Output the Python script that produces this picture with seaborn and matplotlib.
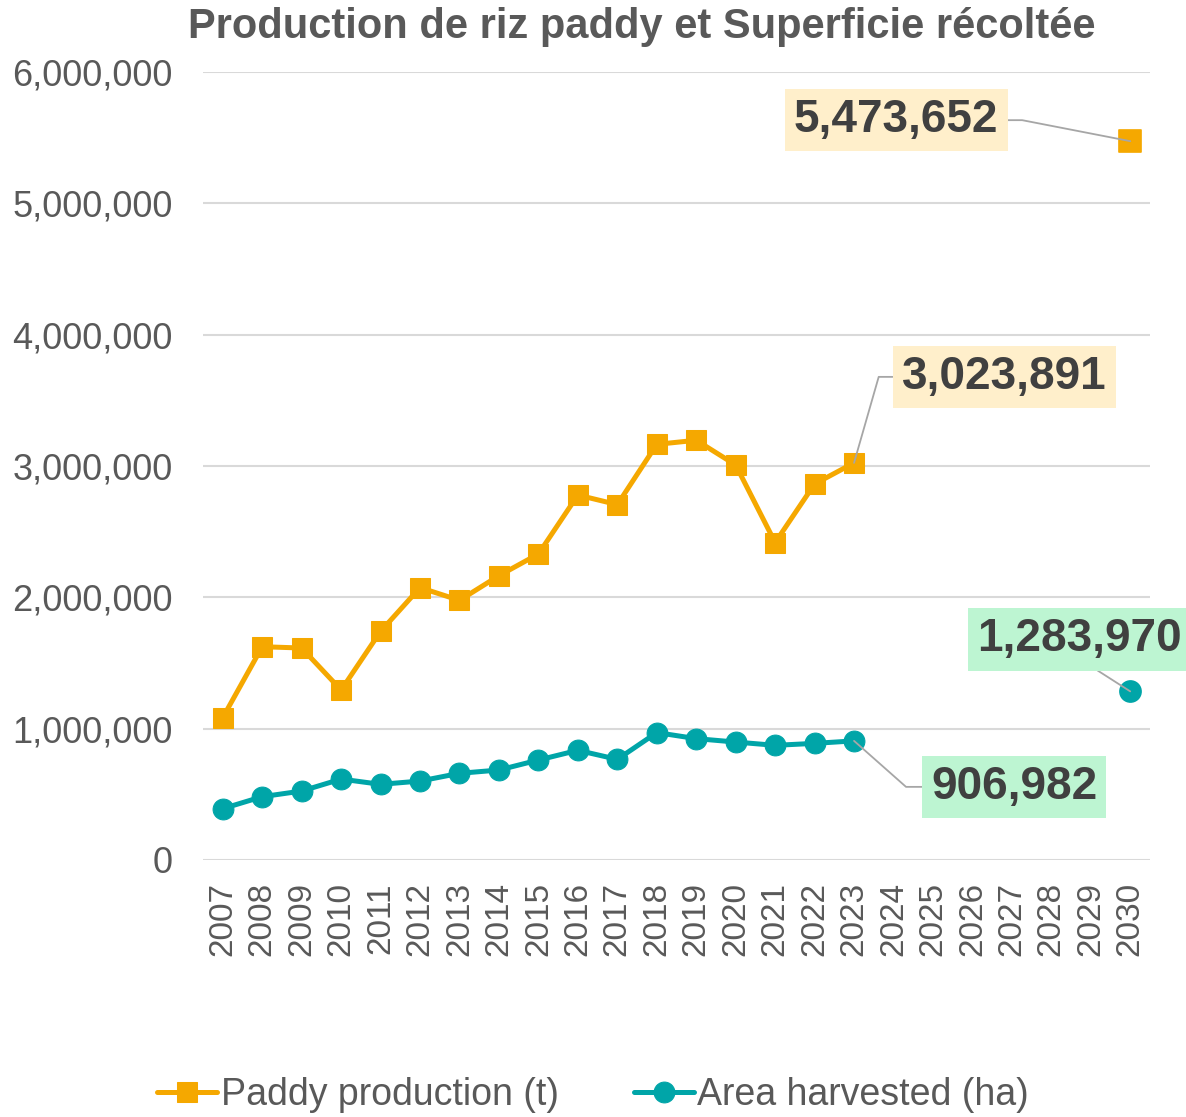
import numpy as np
import pandas as pd
import matplotlib
matplotlib.use("Agg")
import matplotlib.pyplot as plt
import seaborn as sns

# données
years = list(range(2007, 2031))
paddy = [1084000, 1624000, 1614000, 1294000, 1741000, 2074000, 1977000, 2165000,
         2330000, 2779000, 2706000, 3165000, 3196000, 3008000, 2417000, 2863000,
         3023891, np.nan, np.nan, np.nan, np.nan, np.nan, np.nan, 5473652]
area = [391000, 482000, 525000, 616000, 576000, 601000, 660000, 685000,
        761000, 835000, 766000, 970000, 924000, 898000, 873000, 888000,
        906982, np.nan, np.nan, np.nan, np.nan, np.nan, np.nan, 1283970]

df = pd.DataFrame({"Year": years, "Paddy": paddy, "Area": area})
hist = df[df["Year"] <= 2023]
proj = df[df["Year"] == 2030]

orange = "#F5A800"
teal = "#00A5A8"
grey_txt = "#595959"

sns.set_style("white")
plt.rcParams["font.family"] = ["Liberation Sans", "DejaVu Sans"]

fig = plt.figure(figsize=(11.86, 11.17), dpi=100)
ax = fig.add_axes([0.1712, 0.2301, 0.7984, 0.7054])

sns.lineplot(data=hist, x="Year", y="Paddy", color=orange, lw=3.6, marker="s",
             markersize=15, markeredgecolor=orange, ax=ax, label="Paddy production (t)")
sns.lineplot(data=hist, x="Year", y="Area", color=teal, lw=3.6, marker="o",
             markersize=15, markeredgecolor=teal, ax=ax, label="Area harvested (ha)")
sns.scatterplot(data=proj, x="Year", y="Paddy", color=orange, marker="s", s=230,
                edgecolor=orange, ax=ax, legend=False)
sns.scatterplot(data=proj, x="Year", y="Area", color=teal, marker="o", s=230,
                edgecolor=teal, ax=ax, legend=False)

ax.set_xlim(2006.5, 2030.5)
ax.set_ylim(0, 6000000)
ax.set_xticks(years)
ax.set_xticklabels([str(y) for y in years], rotation=90)
ax.set_yticks(range(0, 6000001, 1000000))
ax.yaxis.set_major_formatter(matplotlib.ticker.FuncFormatter(lambda v, p: f"{v:,.0f}"))
ax.tick_params(axis="y", labelsize=26, labelcolor=grey_txt, length=0, pad=22)
ax.tick_params(axis="x", labelsize=24, labelcolor=grey_txt, length=0, pad=16)
ax.set_xlabel("")
ax.set_ylabel("")
ax.grid(axis="y", color="#D9D9D9", lw=1.5)
ax.set_axisbelow(True)
for s in ax.spines.values():
    s.set_visible(False)

# étiquettes de données
lbl_kw = dict(textcoords="offset pixels", ha="center", va="center", fontsize=33,
              fontweight="bold", color="#404040", annotation_clip=False)
line_kw = dict(arrowstyle="-", color="#A6A6A6", lw=1.3, shrinkA=0, shrinkB=0)

ax.annotate(f"{paddy[-1]:,.0f}", xy=(years[-1], paddy[-1]), xytext=(-234, 21),
            bbox=dict(boxstyle="square,pad=0.2", fc="#FFEFCB", ec="none"),
            arrowprops=dict(**line_kw, relpos=(1, 0.5),
                            connectionstyle="angle,angleA=0,angleB=169,rad=0"), **lbl_kw)
ax.annotate(f"{paddy[16]:,.0f}", xy=(years[16], paddy[16]), xytext=(150, 86),
            bbox=dict(boxstyle="square,pad=0.2", fc="#FFEFCB", ec="none"),
            arrowprops=dict(**line_kw, relpos=(0, 0.5),
                            connectionstyle="angle,angleA=0,angleB=74,rad=0"), **lbl_kw)
ax.annotate(f"{area[-1]:,.0f}", xy=(years[-1], area[-1]), xytext=(-51, 52),
            bbox=dict(boxstyle="square,pad=0.2", fc="#BDF5D2", ec="none"),
            arrowprops=dict(**line_kw, relpos=(0.52, 0)), **lbl_kw)
ax.annotate(f"{area[16]:,.0f}", xy=(years[16], area[16]), xytext=(160, -46),
            bbox=dict(boxstyle="square,pad=0.2", fc="#BDF5D2", ec="none"),
            arrowprops=dict(**line_kw, relpos=(0, 0.5),
                            connectionstyle="angle,angleA=0,angleB=-41.5,rad=0"), **lbl_kw)

fig.text(0.541, 0.976, "Production de riz paddy et Superficie récoltée", ha="center",
         va="center", fontsize=30, fontweight="bold", color=grey_txt)

ax.get_legend().remove()
handles, labels = ax.get_legend_handles_labels()
leg = fig.legend(handles, labels, loc="center", bbox_to_anchor=(0.5, 0.02), ncol=2,
                 frameon=False, fontsize=27, handlelength=1.6, handletextpad=0.1,
                 columnspacing=2.0, labelcolor=grey_txt)

fig.savefig("out.png", dpi=100)
